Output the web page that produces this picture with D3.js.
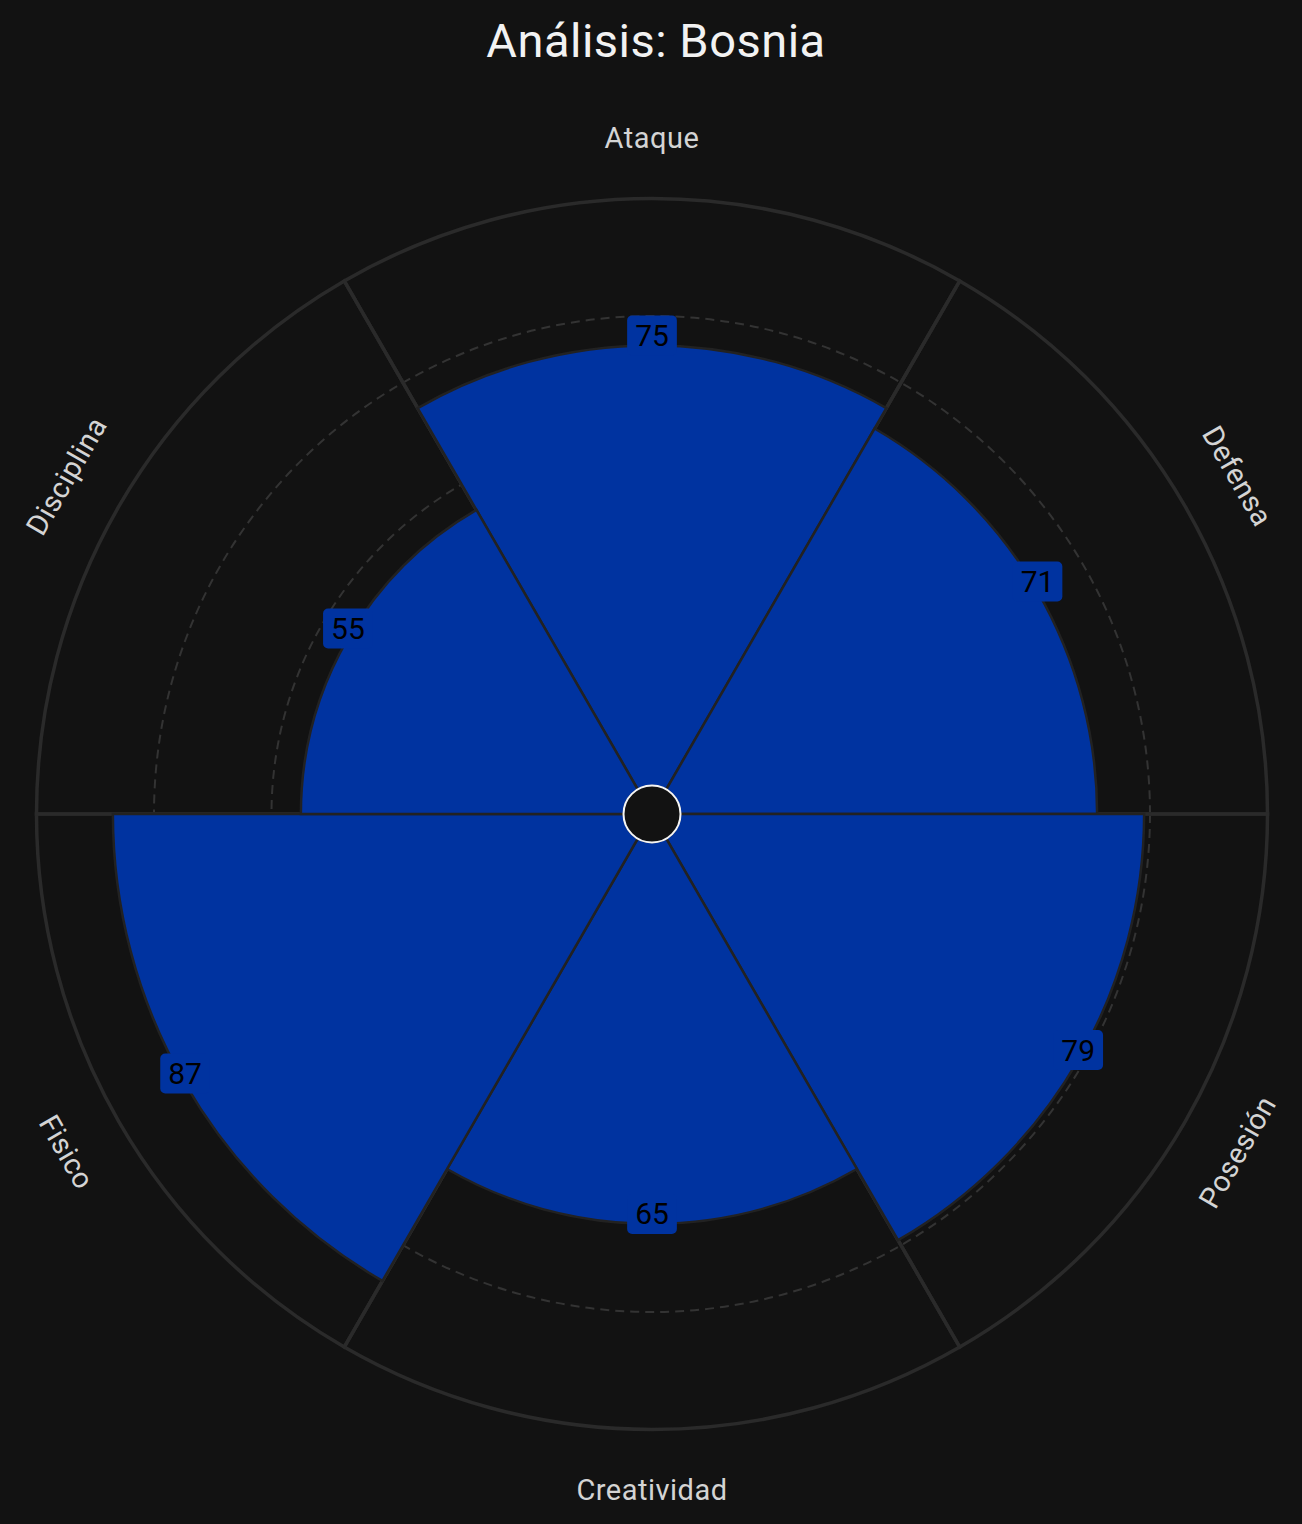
<!DOCTYPE html>
<html>
<head>
<meta charset="utf-8">
<script src="https://cdn.jsdelivr.net/npm/d3@7"></script>
<style>
  html, body { margin: 0; padding: 0; background: #121212; }
  svg { display: block; }
</style>
</head>
<body>
<div id="container"></div>
<script>
// data
const categories = ["Ataque", "Defensa", "Posesión", "Creatividad", "Fisico", "Disciplina"];
const values = [75, 71, 79, 65, 87, 55];
const gridValues = [20, 40, 60, 80];
const title = "Análisis: Bosnia";

const width = 1302;
const height = 1524;
const cx = 652, cy = 814;
const barColor = "#0033a0";

const svg = d3.select("#container").append("svg")
    .attr("width", width)
    .attr("height", height)
    .style("font-family", "Roboto, 'Noto Sans', sans-serif");

svg.append("rect").attr("width", width).attr("height", height).attr("fill", "#121212");

const rScale = d3.scaleLinear().domain([0, 100]).range([28, 615.5]);

const step = 2 * Math.PI / categories.length;
const slices = categories.map((c, i) => ({
    name: c,
    value: values[i],
    start: i * step - step / 2,
    end: i * step + step / 2,
    mid: i * step
}));

const g = svg.append("g").attr("transform", `translate(${cx},${cy})`);

// background slices
const bgArc = d3.arc()
    .innerRadius(rScale(0))
    .outerRadius(rScale(100))
    .startAngle(d => d.start)
    .endAngle(d => d.end);

g.append("g").selectAll("path")
    .data(slices)
    .enter()
    .append("path")
    .attr("d", bgArc)
    .attr("fill", "#121212");

// dashed grid circles
g.append("g").selectAll("circle")
    .data(gridValues)
    .enter()
    .append("circle")
    .attr("r", d => rScale(d))
    .attr("fill", "none")
    .attr("stroke", "#333333")
    .attr("stroke-width", 2)
    .attr("stroke-dasharray", "9,6");

// slice borders
g.append("g").selectAll("path")
    .data(slices)
    .enter()
    .append("path")
    .attr("d", bgArc)
    .attr("fill", "none")
    .attr("stroke", "#2a2a2a")
    .attr("stroke-width", 3.5);

// value bars
const barArc = d3.arc()
    .innerRadius(rScale(0))
    .outerRadius(d => rScale(d.value))
    .startAngle(d => d.start)
    .endAngle(d => d.end);

g.append("g").selectAll("path")
    .data(slices)
    .enter()
    .append("path")
    .attr("d", barArc)
    .attr("fill", barColor)
    .attr("stroke", "#222222")
    .attr("stroke-width", 2.5);

// center circle
g.append("circle")
    .attr("r", 28.5)
    .attr("fill", "#121212")
    .attr("stroke", "#f5f5f5")
    .attr("stroke-width", 2);

// category labels
g.append("g").selectAll("text")
    .data(slices)
    .enter()
    .append("text")
    .attr("transform", d => {
        const r = 676;
        const x = r * Math.sin(d.mid);
        const y = -r * Math.cos(d.mid);
        let rot = d.mid * 180 / Math.PI;
        if (rot > 90 && rot < 270) rot -= 180;
        return `translate(${x},${y}) rotate(${rot})`;
    })
    .attr("text-anchor", "middle")
    .attr("dominant-baseline", "central")
    .attr("fill", "#d4d4d4")
    .style("font-size", "29px")
    .style("letter-spacing", "0.5px")
    .text(d => d.name);

// value labels
const vl = g.append("g").selectAll("g")
    .data(slices)
    .enter()
    .append("g")
    .attr("transform", d => {
        const r = rScale(d.value);
        return `translate(${r * Math.sin(d.mid)},${-r * Math.cos(d.mid) - 10})`;
    });

vl.append("text")
    .attr("text-anchor", "middle")
    .attr("dominant-baseline", "central")
    .attr("fill", "#000000")
    .style("font-size", "30px")
    .text(d => d.value);

vl.each(function () {
    const grp = d3.select(this);
    const bb = grp.select("text").node().getBBox();
    grp.insert("rect", "text")
        .attr("x", -bb.width / 2 - 8)
        .attr("y", -20)
        .attr("width", bb.width + 16)
        .attr("height", 40)
        .attr("rx", 5)
        .attr("fill", barColor);
});

// title
svg.append("text")
    .attr("x", 656)
    .attr("y", 40)
    .attr("text-anchor", "middle")
    .attr("dominant-baseline", "central")
    .attr("fill", "#f2f2f2")
    .style("font-size", "47px")
    .style("letter-spacing", "0.5px")
    .text(title);
</script>
</body>
</html>
